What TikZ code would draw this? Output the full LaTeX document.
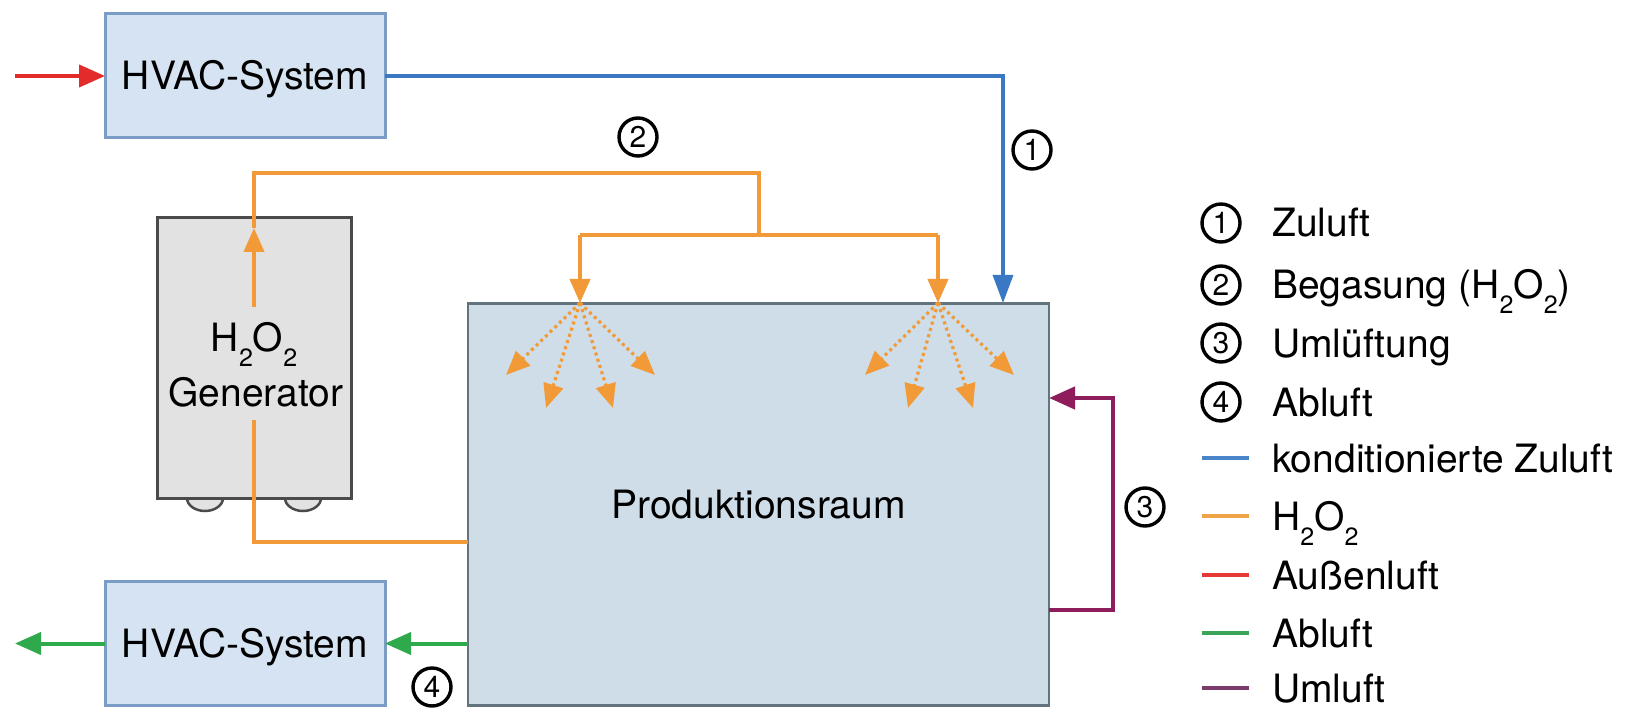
\documentclass[tikz,border=0pt]{standalone}
\usepackage{fontspec}
\setmainfont{TeX Gyre Heros}
\usetikzlibrary{arrows.meta}
\definecolor{hvacfill}{HTML}{D5E3F2}
\definecolor{hvacdraw}{HTML}{7B9CC4}
\definecolor{prodfill}{HTML}{CFDDE8}
\definecolor{proddraw}{HTML}{64747F}
\definecolor{genfill}{HTML}{E2E2E2}
\definecolor{gendraw}{HTML}{4A4A4A}
\definecolor{cblue}{HTML}{3A78C4}
\definecolor{corange}{HTML}{F29A38}
\definecolor{cred}{HTML}{E32B2B}
\definecolor{cgreen}{HTML}{2EAA4C}
\definecolor{cpurple}{HTML}{8E1D5B}
\definecolor{lblue}{HTML}{4A84C8}
\definecolor{lorange}{HTML}{F0A448}
\definecolor{lred}{HTML}{E53935}
\definecolor{lgreen}{HTML}{3AA655}
\definecolor{lpurple}{HTML}{7B3B6B}
\newcommand\dgfont{\fontsize{39}{44}\selectfont}
\newcommand\numfont{\fontsize{30}{30}\selectfont}
\newcommand\subtwo{\raisebox{-15pt}{\fontsize{25}{25}\selectfont 2}}
\begin{document}
\begin{tikzpicture}[x=1pt,y=-1pt,
  box/.style={draw, line width=3, inner sep=0, outer sep=0, font=\dgfont, text height=28pt, text depth=0pt},
  hvac/.style={box, fill=hvacfill, draw=hvacdraw, minimum width=280, minimum height=124},
  prodbox/.style={box, fill=prodfill, draw=proddraw, line width=2.5, minimum width=581, minimum height=402},
  genbox/.style={box, fill=genfill, draw=gendraw, minimum width=194, minimum height=280},
  wheel/.style={fill=genfill, draw=gendraw, line width=2.5},
  lbl/.style={font=\dgfont, inner sep=0, outer sep=0},
  legt/.style={anchor=west, font=\dgfont, inner sep=0, text height=28pt, text depth=0pt},
  numc/.style={circle, draw, line width=3.4, minimum size=38, inner sep=0, font=\numfont},
  mtip/.tip={Triangle[length=26pt,width=22pt]},
  zul/.style={draw=cblue, line width=3.2, -{Triangle[length=28pt,width=20pt]}},
  h2o/.style={draw=corange, line width=4},
  h2oarr/.style={h2o, -{Triangle[length=24pt,width=20pt]}},
  spray/.style={draw=corange, line width=3.2, dash pattern=on 3pt off 3.5pt, -{Triangle[length=24pt,width=20pt]}},
  aussen/.style={draw=cred, line width=4, -mtip},
  abl/.style={draw=cgreen, line width=4, -mtip},
  uml/.style={draw=cpurple, line width=4.5, -mtip},
  legl/.style={line width=3.5}
]
\fill[white] (0,0) rectangle (1632,708);
\useasboundingbox (0,0) rectangle (1632,708);

% boxes
\node[hvac] (hvac1) at (245,76) {HVAC-System};
\node[hvac] (hvac2) at (245,643.5) {HVAC-System};
\draw[wheel] (205,498) ellipse[x radius=18, y radius=13];
\draw[wheel] (303,498) ellipse[x radius=18, y radius=13];
\node[genbox] (gen) at (254,358) {};
\node[lbl, anchor=base] (genh) at (254,352) {H\subtwo O\subtwo};
\node[lbl, anchor=base] (gent) at (256,406) {Generator};
\node[prodbox] (prod) at (758.5,504.5) {Produktionsraum};

% coordinates
\coordinate (in1) at (15,76);
\coordinate (out2) at (15,643.5);
\coordinate (zu) at (1003,303);
\coordinate (ga) at (254,307);
\coordinate (gb) at (254,228);
\coordinate (gc) at (254,420);
\coordinate (pin) at (468,542);
\coordinate (split) at (759,235);
\coordinate (br1) at (580,235);
\coordinate (br2) at (938,235);
\coordinate (s1) at (580,303);
\coordinate (s2) at (938,303);
\coordinate (um1) at (1049,610);
\coordinate (um2) at (1049,398);

% outside air
\draw[aussen] (in1) -- (hvac1.west);
% supply air
\draw[zul] (hvac1.east) -| (zu);
% H2O2
\draw[h2oarr] (ga) -- (gb);
\draw[h2o] (gb) |- (759,173) -- (split);
\draw[h2o] (br1) -- (br2);
\draw[h2oarr] (br1) -- (s1);
\draw[h2oarr] (br2) -- (s2);
\draw[h2o] (gc) |- (pin);
\foreach \dx/\dy in {-74/72, -34/105, 33/105, 75/72}
  \draw[spray] (s1) -- ++(\dx,\dy);
\foreach \dx/\dy in {-73/72, -30/105, 35/105, 76/72}
  \draw[spray] (s2) -- ++(\dx,\dy);
% exhaust
\draw[abl] (prod.west |- hvac2.east) -- (hvac2.east);
\draw[abl] (hvac2.west) -- (out2);
% recirculation
\draw[uml] (um1) -- ++(64,0) |- (um2);

% flow numbers
\node[numc] (n1) at (1032,150) {1};
\node[numc] (n2) at (638,137) {2};
\node[numc] (n3) at (1145,507) {3};
\node[numc] (n4) at (432,687) {4};

% legend
\node[numc] (k1) at (1221,223) {1};
\node[numc] (k2) at (1221,285) {2};
\node[numc] (k3) at (1221,343) {3};
\node[numc] (k4) at (1221,402) {4};
\node[legt] (t1) at (1272,223) {Zuluft};
\node[legt] (t2) at (1272,285) {Begasung (H\subtwo O\subtwo)};
\node[legt] (t3) at (1272,343) {Umlüftung};
\node[legt] (t4) at (1272,402) {Abluft};
\node[legt] (t5) at (1272,458) {konditionierte Zuluft};
\node[legt] (t6) at (1272,516) {H\subtwo O\subtwo};
\node[legt] (t7) at (1272,575) {Außenluft};
\node[legt] (t8) at (1272,633) {Abluft};
\node[legt] (t9) at (1272,688) {Umluft};
\draw[legl, lblue] (t5.west) ++(-70,0) -- ++(47,0);
\draw[legl, lorange] (t6.west) ++(-70,0) -- ++(47,0);
\draw[legl, lred] (t7.west) ++(-70,0) -- ++(47,0);
\draw[legl, lgreen] (t8.west) ++(-70,0) -- ++(47,0);
\draw[legl, lpurple] (t9.west) ++(-70,0) -- ++(47,0);
\end{tikzpicture}
\end{document}
